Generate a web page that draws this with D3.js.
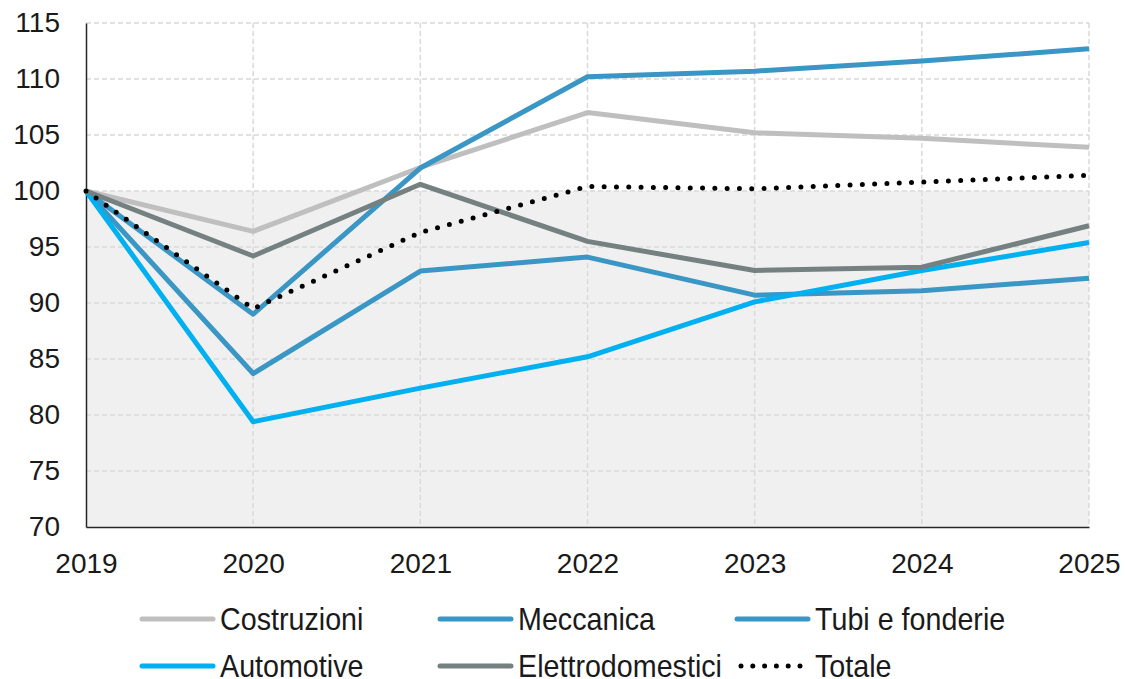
<!DOCTYPE html>
<html>
<head>
<meta charset="utf-8">
<script src="https://cdn.jsdelivr.net/npm/d3@7"></script>
<style>
  html, body { margin: 0; padding: 0; background: #fff; }
  svg text { font-family: "Liberation Sans", Arial, sans-serif; fill: #1a1a1a; }
</style>
</head>
<body>
<svg id="chart" width="1125" height="679"></svg>
<script>
const years = [2019, 2020, 2021, 2022, 2023, 2024, 2025];
const yTicks = [70, 75, 80, 85, 90, 95, 100, 105, 110, 115];
const costruzioni = [100, 96.4, 102.1, 107.0, 105.2, 104.7, 103.9];
const meccanica = [100, 83.7, 92.85, 94.1, 90.7, 91.1, 92.2];
const tubi = [100, 89.0, 102.05, 110.2, 110.7, 111.6, 112.7];
const automotive = [100, 79.4, 82.4, 85.2, 90.1, 92.9, 95.4];
const elettro = [100, 94.2, 100.6, 95.5, 92.9, 93.2, 96.9];
const totale = [100, 89.5, 96.3, 100.4, 100.2, 100.8, 101.4];
const shadeLevel = 100;

const seriesNames = ["Costruzioni", "Meccanica", "Tubi e fonderie", "Automotive", "Elettrodomestici", "Totale"];
const seriesValues = [costruzioni, meccanica, tubi, automotive, elettro, totale];
const seriesColors = ["#BFBFBF", "#3A96C5", "#3A96C5", "#00B0F0", "#758081", "#000000"];

(function () {
const svg = d3.select("#chart");
const mL = 86, mR = 1089, mT = 23, mB = 527;

const x = d3.scaleLinear().domain([2019, 2025]).range([mL, mR]);
const y = d3.scaleLinear().domain([70, 115]).range([mB, mT]);

// shaded area below 100
svg.append("path")
  .datum(years)
  .attr("fill", "#F0F0F0")
  .attr("d", d3.area().x(d => x(d)).y0(y(70)).y1(y(shadeLevel)));

// gridlines
const grid = svg.append("g");
grid.selectAll("line.h").data(yTicks.filter(t => t > 70)).join("line")
  .attr("x1", mL).attr("x2", mR)
  .attr("y1", d => y(d)).attr("y2", d => y(d))
  .attr("stroke", "#D9D9D9").attr("stroke-width", 1.5).attr("stroke-dasharray", "5,3");
grid.selectAll("line.v").data(years.slice(1)).join("line")
  .attr("x1", d => x(d)).attr("x2", d => x(d))
  .attr("y1", mT).attr("y2", mB)
  .attr("stroke", "#D9D9D9").attr("stroke-width", 1.5).attr("stroke-dasharray", "5,3");

// axes
const yAxis = d3.axisLeft(y).tickValues(yTicks).tickSize(0).tickPadding(26);
const gy = svg.append("g").attr("transform", `translate(${mL},0)`).call(yAxis);
gy.select(".domain").attr("stroke", "#262626").attr("stroke-width", 1.5);
gy.selectAll("text").style("font-size", "28px").attr("fill", "#1a1a1a");

const xAxis = d3.axisBottom(x).tickValues(years).tickFormat(d3.format("d")).tickSize(0).tickPadding(26);
const gx = svg.append("g").attr("transform", `translate(0,${mB})`).call(xAxis);
gx.select(".domain").attr("stroke", "#262626").attr("stroke-width", 1.5);
gx.selectAll("text").style("font-size", "28px").attr("fill", "#1a1a1a");

// lines
const line = d3.line().x((d, i) => x(years[i])).y(d => y(d));
seriesValues.forEach((vals, i) => {
  const p = svg.append("path").datum(vals)
    .attr("fill", "none")
    .attr("stroke", seriesColors[i])
    .attr("stroke-width", 5)
    .attr("d", line);
  if (seriesNames[i] === "Totale") {
    p.attr("stroke-dasharray", "0,12.3").attr("stroke-linecap", "round");
  } else {
    p.attr("stroke-linejoin", "round").attr("stroke-linecap", "butt");
  }
});

// legend
const colX = [142, 440, 737];
const rowY = [619, 666];
const legend = svg.append("g");
seriesNames.forEach((name, i) => {
  const cx = colX[i % 3], cy = rowY[Math.floor(i / 3)];
  const g = legend.append("g");
  const isDot = name === "Totale";
  g.append("line")
    .attr("x1", isDot ? cx + 4 : cx).attr("x2", isDot ? cx + 64 : cx + 71)
    .attr("y1", cy).attr("y2", cy)
    .attr("stroke", seriesColors[i])
    .attr("stroke-width", 5)
    .attr("stroke-linecap", "round")
    .attr("stroke-dasharray", isDot ? "0,11.8" : null);
  g.append("text")
    .attr("transform", `translate(${cx + 78},${cy + 11}) scale(0.925,1)`)
    .style("font-size", "31px")
    .text(name);
});
})();
</script>
</body>
</html>
